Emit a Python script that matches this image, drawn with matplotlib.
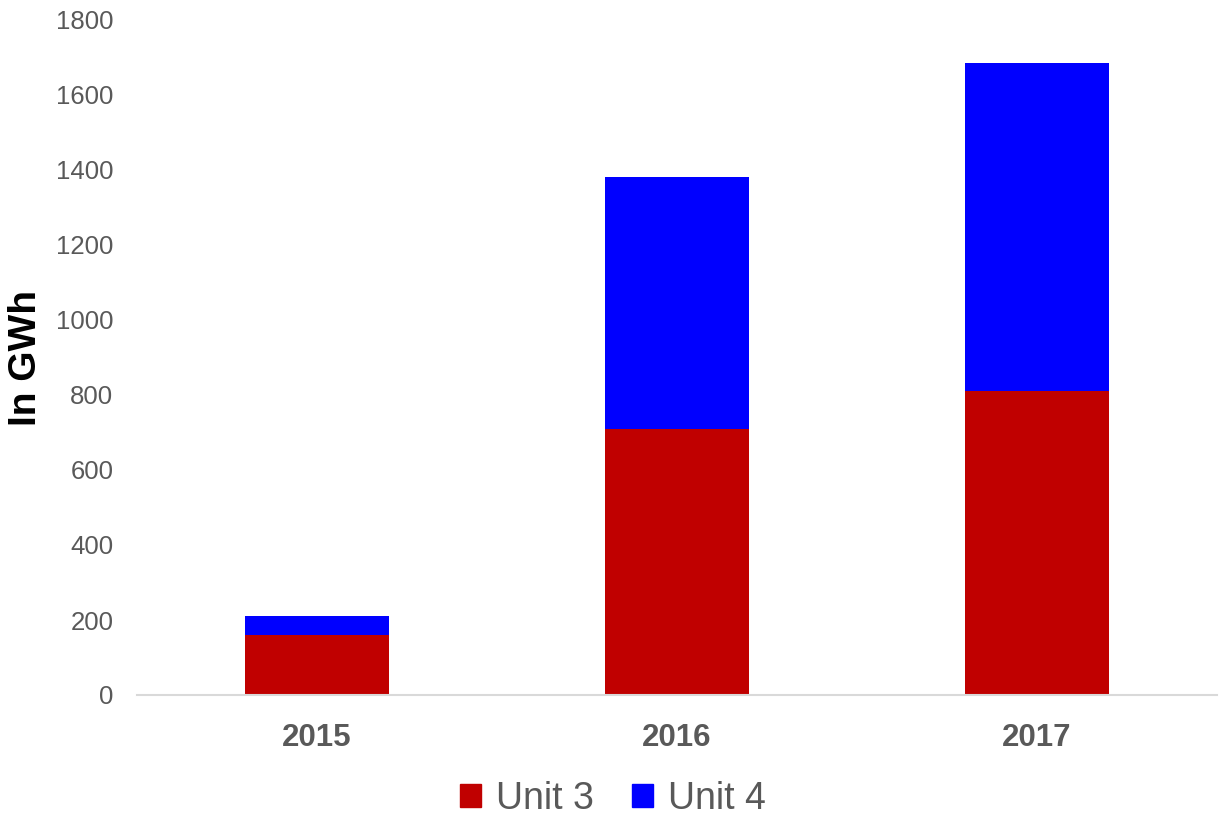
import matplotlib
matplotlib.use("Agg")
import matplotlib.pyplot as plt
from matplotlib.patches import Patch

years = ["2015", "2016", "2017"]
unit3 = [160, 710, 810]
unit4 = [50, 672, 876]
yticks = [0, 200, 400, 600, 800, 1000, 1200, 1400, 1600, 1800]

RED = "#c00000"
BLUE = "#0000ff"
GRAY = "#595959"

plt.rcParams['font.family'] = ['Liberation Sans', 'DejaVu Sans']

fig = plt.figure(figsize=(12.26, 8.17), dpi=100)
ax = fig.add_axes([137/1226, (817-695)/817, 1080/1226, 675/817])

x = list(range(len(years)))
ax.bar(x, unit3, width=0.4, color=RED, label="Unit 3")
ax.bar(x, unit4, width=0.4, bottom=unit3, color=BLUE, label="Unit 4")

ax.set_xlim(-0.5, 2.5)
ax.set_ylim(0, 1800)
ax.set_yticks(yticks)
ax.set_yticklabels([str(v) for v in yticks], fontsize=18.5, color=GRAY)
ax.set_xticks(x)
ax.set_xticklabels(years, fontsize=22.5, fontweight='bold', color=GRAY)
ax.tick_params(axis='y', length=0, pad=17)
ax.tick_params(axis='x', length=0, pad=20)

for s in ['top', 'right', 'left']:
    ax.spines[s].set_visible(False)
ax.spines['bottom'].set_color('#d9d9d9')
ax.spines['bottom'].set_linewidth(1.5)

fig.text(26/1226, 1-358/817, "In GWh", rotation=90, ha='center', va='center',
         fontsize=28, fontweight='bold', color='black')

handles = [Patch(color=RED), Patch(color=BLUE)]
fig.legend(handles, ["Unit 3", "Unit 4"], loc='center', bbox_to_anchor=(613/1226, 1-799/817),
           ncol=2, frameon=False, fontsize=27, labelcolor=GRAY,
           handlelength=0.57, handleheight=0.57, handletextpad=0.4, columnspacing=1.0)

fig.savefig("out.png", dpi=100)
